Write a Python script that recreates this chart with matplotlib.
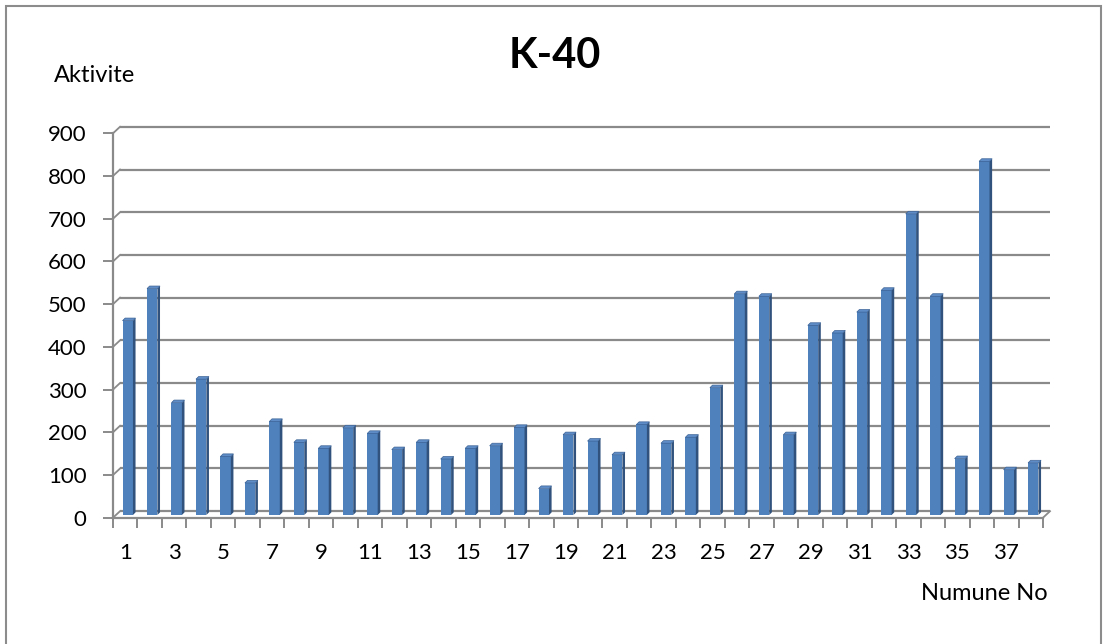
import numpy as np
import matplotlib.pyplot as plt
from matplotlib.patches import Polygon, Rectangle

plt.rcParams['font.family'] = ['Lato', 'DejaVu Sans']

numune = np.arange(1, 39)
aktivite = [455, 530, 263, 318, 137, 75, 219, 170, 156, 204,
            191, 153, 170, 131, 156, 162, 205, 62, 188, 173,
            141, 212, 168, 182, 298, 518, 512, 188, 444, 426,
            475, 526, 705, 512, 132, 828, 106, 122]
y_ticks = np.arange(0, 1000, 100)
x_labels = [str(n) for n in numune[::2]]

W, H = 1103, 644
fig = plt.figure(figsize=(W / 100, H / 100), dpi=100)
fig.patch.set_facecolor('white')

# front plane of the 3d box, in pixels
left, right, bottom, top = 113, 1043, 126.3, 510.7
ax = fig.add_axes([left / W, bottom / H, (right - left) / W, (top - bottom) / H])
ax.set_xlim(0.5, 38.5)
ax.set_ylim(0, 900)
ax.patch.set_alpha(0)

ux = 38 / (right - left)        # data units per pixel
uy = 900 / (top - bottom)

grid_c = '#8a8a8a'
dx, dy = 7 * ux, 6.5 * uy       # depth of the back wall

# back wall gridlines and the little diagonals to the front axis
for v in y_ticks:
    ax.plot([0.5 + dx, 38.5 + dx], [v + dy, v + dy], color=grid_c, lw=1.6,
            clip_on=False, zorder=1, solid_capstyle='butt')
    ax.plot([0.5, 0.5 + dx], [v, v + dy], color=grid_c, lw=1.3, clip_on=False, zorder=1)
ax.plot([38.5, 38.5 + dx], [0, dy], color=grid_c, lw=1.3, clip_on=False, zorder=1)

# bars with a side and top face
bw = 0.425
sx, sy = 2.6 * ux, 2.6 * uy
base = 2.7 * uy
xc = numune + 2.5 * ux
ax.bar(xc, aktivite, width=bw, bottom=base, color='#4f81bd', zorder=3,
       linewidth=0)
for x, v in zip(xc, aktivite):
    xl, xr = x - bw / 2, x + bw / 2
    t = base + v
    ax.add_patch(Polygon([(xr, base), (xr + sx, base + sy), (xr + sx, t + sy), (xr, t)],
                         closed=True, facecolor='#30527c', edgecolor='none', zorder=3))
    ax.add_patch(Polygon([(xl, t), (xl + sx, t + sy), (xr + sx, t + sy), (xr, t)],
                         closed=True, facecolor='#5e8cc6', edgecolor='#3c6396',
                         lw=0.5, zorder=3))

for s in ['top', 'right']:
    ax.spines[s].set_visible(False)
for s in ['left', 'bottom']:
    ax.spines[s].set_color(grid_c)
    ax.spines[s].set_linewidth(1.6)
    ax.spines[s].set_zorder(4)

ax.set_yticks(y_ticks)
ax.set_yticklabels([str(v) for v in y_ticks], fontsize=16)
ax.tick_params(axis='y', length=7, width=1.4, color=grid_c, pad=12)

ax.set_xticks(numune[::2])
ax.set_xticklabels(x_labels, fontsize=16)
ax.set_xticks(np.arange(0.5, 39, 1), minor=True)
ax.tick_params(axis='x', which='major', length=0, pad=18)
ax.tick_params(axis='x', which='minor', length=7, width=1.4, color=grid_c)

fig.text(555 / W, 1 - 56 / H, 'K-40', fontsize=30, fontweight='bold',
         ha='center', va='center')
fig.text(54 / W, 1 - 75 / H, 'Aktivite', fontsize=17, ha='left', va='center')
fig.text(1048 / W, 1 - 593 / H, 'Numune No', fontsize=17, ha='right', va='center')

# chart frame
fig.add_artist(Rectangle((6 / W, -0.05), (1101 - 6) / W, 1.05 - 6 / H,
                         transform=fig.transFigure, fill=False,
                         edgecolor='#8c8c8c', lw=1.5))

fig.savefig('out.png', dpi=100)
